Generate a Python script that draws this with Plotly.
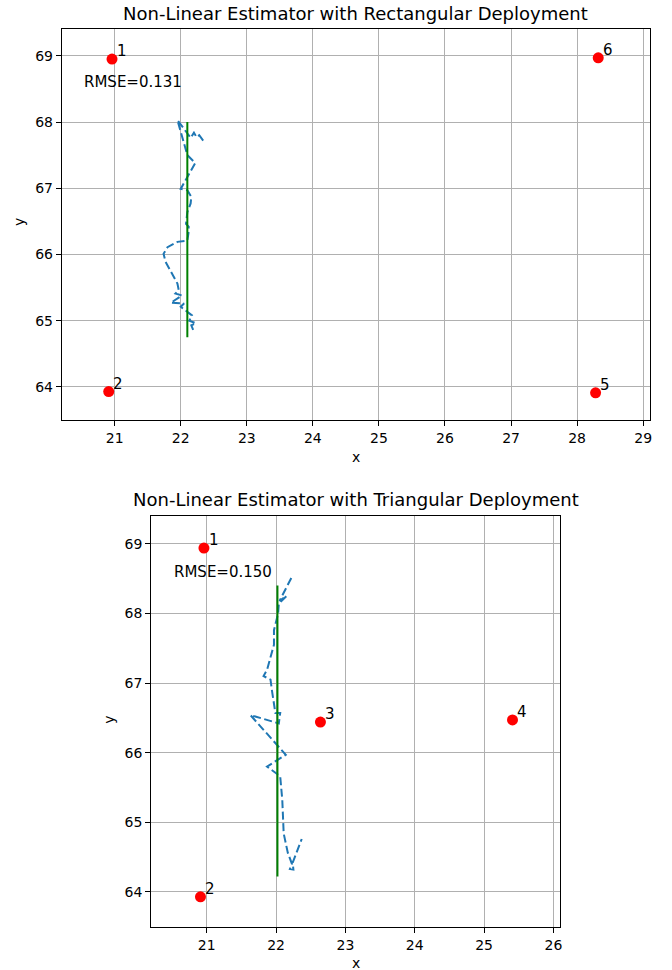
import plotly.graph_objects as go

W, H = 672, 970
FONT = "DejaVu Sans"

# ---------------- data ----------------
rect_anchor_x = [20.96, 20.91, 28.28, 28.32]
rect_anchor_y = [68.95, 63.93, 63.91, 68.97]
rect_anchor_lbl = ["1", "2", "5", "6"]

tri_anchor_x = [20.96, 20.91, 22.64, 25.41]
tri_anchor_y = [68.94, 63.93, 66.44, 66.47]
tri_anchor_lbl = ["1", "2", "3", "4"]

rect_true_x = [22.10, 22.10]
rect_true_y = [68.00, 64.75]
tri_true_x = [22.02, 22.02]
tri_true_y = [68.40, 64.22]

rect_est_x = [22.34, 22.28, 22.24, 22.20, 22.15, 21.95, 22.10, 22.22, 22.00, 22.10,
              22.16, 22.15, 22.10, 22.08, 22.12, 22.12, 22.10, 21.95, 21.80, 21.74,
              21.77, 21.85, 21.95, 21.97, 21.92, 22.02, 21.85, 22.05, 22.00, 22.13,
              22.17, 22.13, 22.23, 22.16, 22.20]
rect_est_y = [67.72, 67.80, 67.77, 67.84, 67.76, 68.03, 67.50, 67.38, 66.99, 66.97,
              66.87, 66.77, 66.64, 66.46, 66.42, 66.34, 66.21, 66.19, 66.11, 66.01,
              65.89, 65.74, 65.56, 65.46, 65.41, 65.38, 65.27, 65.26, 65.21, 65.11,
              65.08, 65.00, 64.96, 64.93, 64.83]

tri_est_x = [22.22, 22.05, 22.15, 22.04, 22.03, 21.97, 21.97, 21.92, 21.87, 21.82,
             21.92, 21.94, 21.97, 21.99, 22.06, 22.04, 21.63, 22.14, 21.87, 22.06,
             22.09, 22.10, 22.11, 22.17, 22.23, 22.20, 22.25, 22.24, 22.37]
tri_est_y = [68.51, 68.18, 68.25, 68.14, 68.00, 67.76, 67.55, 67.36, 67.19, 67.10,
             67.05, 66.90, 66.71, 66.57, 66.57, 66.42, 66.54, 65.97, 65.80, 65.66,
             65.32, 65.00, 64.84, 64.56, 64.40, 64.33, 64.32, 64.42, 64.76]

rmse_rect = "RMSE=0.131"
rmse_tri = "RMSE=0.150"
title_rect = "Non-Linear Estimator with Rectangular Deployment"
title_tri = "Non-Linear Estimator with Triangular Deployment"

rect_xticks = list(range(21, 30))
tri_xticks = list(range(21, 27))
yticks = list(range(64, 70))

# ---------------- layout helpers ----------------
def px(x):
    return x / W

def py(y):
    return 1 - y / H

fig = go.Figure()

BLUE = "#1f77b4"

def add_panel(ax, ex, ey, tx, ty, axx, axy, lbls):
    xa = "x" if ax == 1 else "x2"
    ya = "y" if ax == 1 else "y2"
    fig.add_trace(go.Scatter(x=ex, y=ey, mode="lines", xaxis=xa, yaxis=ya,
                             line=dict(color=BLUE, width=2, dash="8px,3.5px"),
                             showlegend=False))
    fig.add_trace(go.Scatter(x=tx, y=ty, mode="lines", xaxis=xa, yaxis=ya,
                             line=dict(color="#008000", width=2), showlegend=False))
    fig.add_trace(go.Scatter(x=axx, y=axy, mode="markers", xaxis=xa, yaxis=ya,
                             marker=dict(color="#ff0000", size=11), showlegend=False))
    for xx, yy, t in zip(axx, axy, lbls):
        fig.add_annotation(x=xx + 0.04, y=yy, xref=xa, yref=ya, text=t,
                           showarrow=False, xanchor="left", yanchor="bottom",
                           yshift=-3, font=dict(family=FONT, size=15, color="black"))

add_panel(1, rect_est_x, rect_est_y, rect_true_x, rect_true_y,
          rect_anchor_x, rect_anchor_y, rect_anchor_lbl)
add_panel(2, tri_est_x, tri_est_y, tri_true_x, tri_true_y,
          tri_anchor_x, tri_anchor_y, tri_anchor_lbl)

fig.add_annotation(x=20.5, y=68.5, xref="x", yref="y", text=rmse_rect, showarrow=False,
                   xanchor="left", yanchor="bottom", yshift=-4,
                   font=dict(family=FONT, size=15, color="black"))
fig.add_annotation(x=20.5, y=68.5, xref="x2", yref="y2", text=rmse_tri, showarrow=False,
                   xanchor="left", yanchor="bottom", yshift=-4,
                   font=dict(family=FONT, size=15, color="black"))

def axis(rng, dom, ticks, anchor):
    return dict(range=rng, domain=dom, tickvals=ticks, ticktext=[str(t) for t in ticks],
                showgrid=True, gridcolor="#b0b0b0", gridwidth=1,
                showline=True, linecolor="black", linewidth=1, mirror=True,
                ticks="outside", ticklen=5, tickwidth=1, tickcolor="black",
                tickfont=dict(family=FONT, size=14, color="black"),
                zeroline=False, anchor=anchor, fixedrange=True)

layout = dict(
    width=W, height=H, margin=dict(l=0, r=0, t=0, b=0),
    paper_bgcolor="white", plot_bgcolor="white",
    xaxis=axis([20.2, 29.1], [px(62), px(651.7)], rect_xticks, "y"),
    yaxis=axis([63.5, 69.4], [py(420), py(29.3)], yticks, "x"),
    xaxis2=axis([20.2, 26.1], [px(151.7), px(562)], tri_xticks, "y2"),
    yaxis2=axis([63.5, 69.4], [py(926.7), py(516)], yticks, "x2"),
    font=dict(family=FONT, color="black"),
)
fig.update_layout(**layout)

def paper_text(x, y, t, size, angle=0):
    fig.add_annotation(x=px(x), y=py(y), xref="paper", yref="paper", text=t,
                       showarrow=False, xanchor="center", yanchor="middle",
                       textangle=angle, font=dict(family=FONT, size=size, color="black"))

paper_text(357, 14, title_rect, 18)
paper_text(357, 500, title_tri, 18)
paper_text(357, 457, "x", 14)
paper_text(19, 222, "y", 14, -90)
paper_text(357, 963, "x", 14)
paper_text(109, 720, "y", 14, -90)

fig.write_html("out.html")
